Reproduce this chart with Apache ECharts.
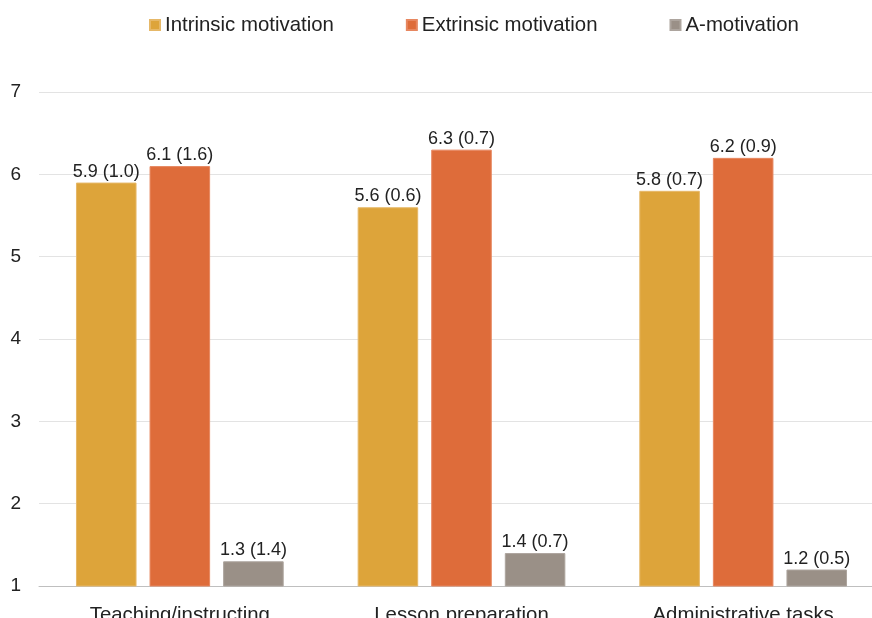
<!DOCTYPE html>
<html>
<head>
<meta charset="utf-8">
<style>
  html, body { margin: 0; padding: 0; background: #fff; overflow: hidden; }
  #chart { width: 872px; height: 618px; }
</style>
<script src="https://cdn.jsdelivr.net/npm/echarts@6/dist/echarts.min.js"></script>
</head>
<body>
<div id="chart"></div>
<script>
// Task categories along the x axis
const categories = ['Teaching/instructing', 'Lesson preparation', 'Administrative tasks'];

// Mean scores per motivation type
const intrinsicMean = [5.9, 5.6, 5.8];
const extrinsicMean = [6.1, 6.3, 6.2];
const amotivationMean = [1.3, 1.4, 1.2];

// Standard deviations shown in brackets
const intrinsicSD = [1.0, 0.6, 0.7];
const extrinsicSD = [1.6, 0.7, 0.9];
const amotivationSD = [1.4, 0.7, 0.5];

// Y axis range
const yMin = 1;
const yMax = 7;
const yStep = 1;

const seriesNames = ['Intrinsic motivation', 'Extrinsic motivation', 'A-motivation'];
const colors = ['#DDA43A', '#DE6C3A', '#9A9087'];
const borders = ['#E6B868', '#E78760', '#ADA59E'];

const font = '"Liberation Sans", Arial, sans-serif';

function makeSeries(name, means, sds, idx) {
  return {
    name: name,
    type: 'bar',
    data: means,
    barWidth: '21.5%',
    barGap: '21.5%',
    itemStyle: { color: colors[idx], borderColor: borders[idx], borderWidth: 1 },
    label: {
      show: true,
      position: 'top',
      distance: 2,
      color: '#222',
      fontFamily: font,
      fontSize: 18,
      formatter: p => means[p.dataIndex].toFixed(1) + ' (' + sds[p.dataIndex].toFixed(1) + ')'
    }
  };
}

const chart = echarts.init(document.getElementById('chart'), null, { renderer: 'canvas' });
chart.setOption({
  animation: false,
  color: colors,
  legend: {
    top: 10,
    left: 144,
    itemWidth: 10,
    itemHeight: 10,
    itemGap: 72,
    icon: 'rect',
    textStyle: { fontFamily: font, fontSize: 20.4, color: '#222' },
    data: seriesNames
  },
  // the plot runs a little past the right edge of the page
  grid: {
    left: 39, width: 845, top: 92, bottom: 32,
    containLabel: false,
    outerBoundsMode: 'none'
  },
  xAxis: {
    type: 'category',
    data: categories,
    axisTick: { show: false },
    axisLine: { lineStyle: { color: '#BFBFBF', width: 1 } },
    axisLabel: { fontFamily: font, fontSize: 20.4, color: '#222', margin: 19 }
  },
  yAxis: {
    type: 'value',
    min: yMin,
    max: yMax,
    interval: yStep,
    axisLine: { show: false },
    axisTick: { show: false },
    splitLine: { lineStyle: { color: '#E3E3E3', width: 1 } },
    axisLabel: { fontFamily: font, fontSize: 19, color: '#222', margin: 18 }
  },
  series: [
    makeSeries(seriesNames[0], intrinsicMean, intrinsicSD, 0),
    makeSeries(seriesNames[1], extrinsicMean, extrinsicSD, 1),
    makeSeries(seriesNames[2], amotivationMean, amotivationSD, 2)
  ]
});
</script>
</body>
</html>
